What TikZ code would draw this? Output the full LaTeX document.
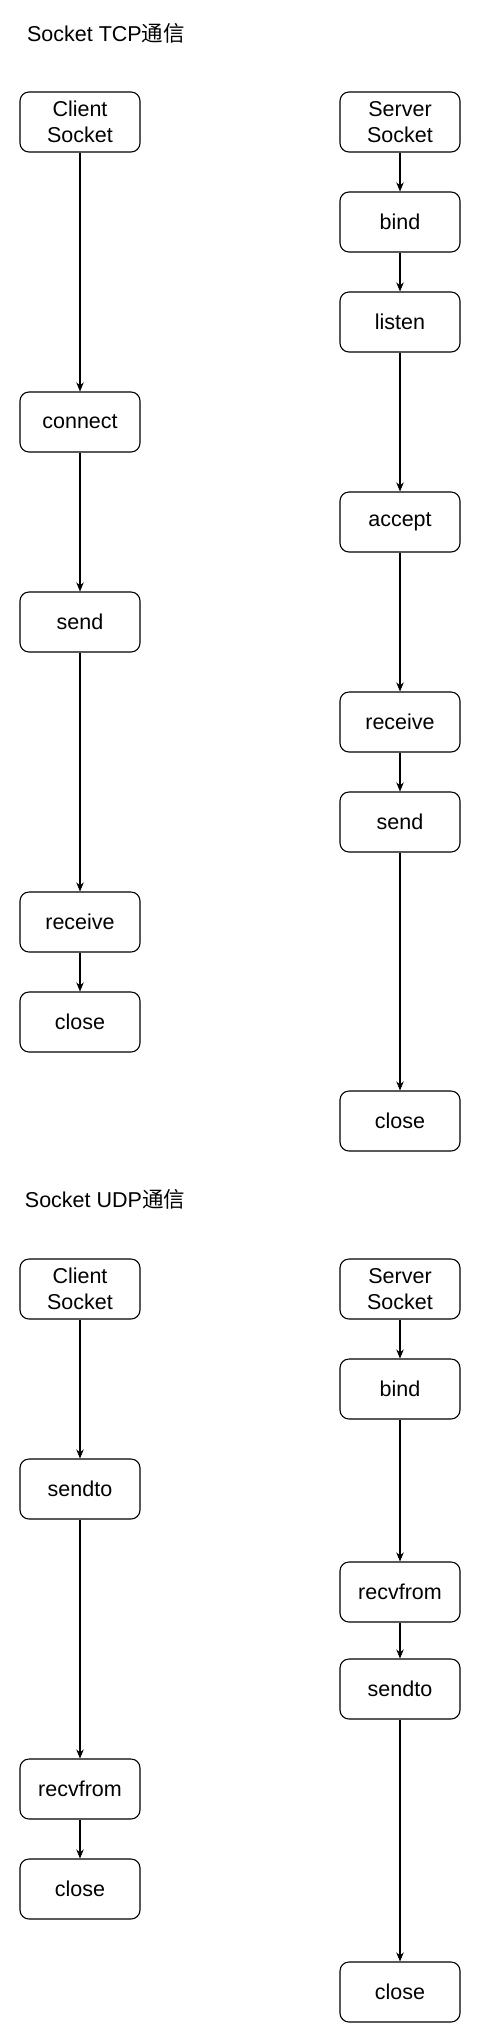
\documentclass[tikz,border=0pt]{standalone}
\usepackage{fontspec}
\setmainfont{Liberation Sans}
\newfontfamily\cjk{Noto Sans CJK SC}
\usepackage{tikz}
\usetikzlibrary{arrows.meta}
\tikzstyle{sk_box} = [rectangle, draw=black, line width=1.1pt, rounded corners=9pt, align=center, inner sep=0pt, minimum width=120pt, minimum height=60pt, font=\fontsize{21.5}{26}\selectfont]
\tikzstyle{sk_title} = [inner sep=0pt, font=\fontsize{21.5}{26}\selectfont]

\begin{document}
\begin{tikzpicture}[x=1pt,y=-1pt,->,>={Stealth[length=9pt,width=7.5pt]},line width=1.1pt]
\useasboundingbox (0,0) rectangle (481,2043);
% TCP
\node [sk_title] (tcp_title) at (106,33) {Socket TCP{\cjk 通信}};
\node [sk_box] (tcp_cli) at (80,122) {Client\\Socket};
\node [sk_box] (tcp_connect) at (80,422) {connect};
\node [sk_box] (tcp_csend) at (80,622) {send};
\node [sk_box] (tcp_crecv) at (80,922) {receive};
\node [sk_box] (tcp_cclose) at (80,1022) {close};
\node [sk_box] (tcp_srv) at (400,122) {Server\\Socket};
\node [sk_box] (tcp_bind) at (400,222) {bind};
\node [sk_box] (tcp_listen) at (400,322) {listen};
\node [sk_box] (tcp_accept) at (400,522) {accept};
\node [sk_box] (tcp_srecv) at (400,722) {receive};
\node [sk_box] (tcp_ssend) at (400,822) {send};
\node [sk_box] (tcp_sclose) at (400,1121) {close};
\draw (tcp_cli) -- (tcp_connect);
\draw (tcp_connect) -- (tcp_csend);
\draw (tcp_csend) -- (tcp_crecv);
\draw (tcp_crecv) -- (tcp_cclose);
\draw (tcp_srv) -- (tcp_bind);
\draw (tcp_bind) -- (tcp_listen);
\draw (tcp_listen) -- (tcp_accept);
\draw (tcp_accept) -- (tcp_srecv);
\draw (tcp_srecv) -- (tcp_ssend);
\draw (tcp_ssend) -- (tcp_sclose);
% UDP
\node [sk_title] (udp_title) at (105,1199) {Socket UDP{\cjk 通信}};
\node [sk_box] (udp_cli) at (80,1289) {Client\\Socket};
\node [sk_box] (udp_csendto) at (80,1489) {sendto};
\node [sk_box] (udp_crecv) at (80,1789) {recvfrom};
\node [sk_box] (udp_cclose) at (80,1889) {close};
\node [sk_box] (udp_srv) at (400,1289) {Server\\Socket};
\node [sk_box] (udp_bind) at (400,1389) {bind};
\node [sk_box] (udp_srecv) at (400,1592) {recvfrom};
\node [sk_box] (udp_ssendto) at (400,1689) {sendto};
\node [sk_box] (udp_sclose) at (400,1992) {close};
\draw (udp_cli) -- (udp_csendto);
\draw (udp_csendto) -- (udp_crecv);
\draw (udp_crecv) -- (udp_cclose);
\draw (udp_srv) -- (udp_bind);
\draw (udp_bind) -- (udp_srecv);
\draw (udp_srecv) -- (udp_ssendto);
\draw (udp_ssendto) -- (udp_sclose);
\end{tikzpicture}
\end{document}
